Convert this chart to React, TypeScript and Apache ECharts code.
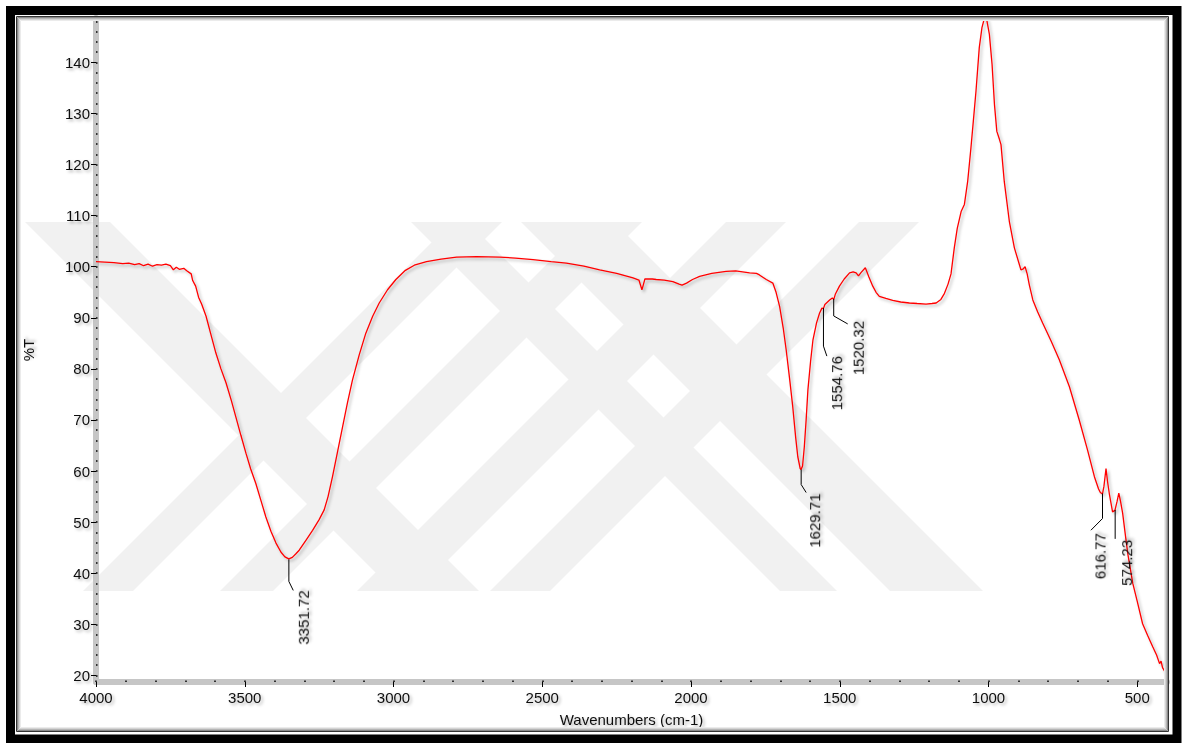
import React, { useEffect, useRef } from "react";
import * as echarts from "echarts";

const wavenumbers = [
  4000, 3970, 3940, 3910, 3890, 3870, 3855, 3840, 3825, 3810, 3795, 3780, 3765, 3750, 3740, 3730, 3720, 3705, 3695, 3680,
  3675, 3665, 3655, 3645, 3630, 3615, 3597, 3580, 3563, 3545, 3530, 3513, 3496, 3480, 3463, 3446, 3429, 3412, 3395, 3378,
  3365, 3352, 3340, 3328, 3317, 3295, 3272, 3250, 3233, 3220, 3205, 3188, 3171, 3155, 3138, 3115, 3093, 3070, 3048, 3020,
  2992, 2960, 2930, 2889, 2840, 2788, 2720, 2643, 2590, 2531, 2470, 2419, 2360, 2307, 2250, 2195, 2175, 2165, 2160, 2155,
  2130, 2117, 2090, 2061, 2040, 2030, 2015, 1995, 1971, 1930, 1882, 1850, 1803, 1780, 1770, 1747, 1725, 1714, 1702, 1690,
  1680, 1668, 1658, 1648, 1641, 1633, 1630, 1625, 1619, 1613, 1607, 1598, 1590, 1578, 1568, 1560, 1555, 1550, 1534, 1525,
  1520, 1515, 1501, 1485, 1467, 1455, 1445, 1437, 1428, 1414, 1402, 1389, 1378, 1367, 1345, 1322, 1295, 1266, 1240, 1210,
  1190, 1176, 1160, 1148, 1136, 1126, 1115, 1105, 1092, 1081, 1070, 1059, 1051, 1042, 1031, 1022, 1014, 1006, 997, 988,
  980, 972, 963, 958, 947, 930, 913, 891, 883, 877, 870, 863, 851, 835, 818, 790, 762, 728, 695, 667,
  644, 630, 624, 617, 612, 605, 600, 594, 583, 575, 568, 562, 556, 549, 540, 532, 515, 500, 482, 465,
  448, 435, 425, 420, 415, 410, 403, 400,
];

const transmittance = [
  101.0, 100.9, 100.8, 100.6, 100.7, 100.4, 100.6, 100.2, 100.5, 100.1, 100.4, 100.3, 100.5, 100.2, 99.4, 99.9, 99.5, 99.7, 99.2, 98.6,
  97.3, 96.2, 94.0, 92.7, 90.3, 87.0, 83.1, 80.0, 77.3, 73.8, 70.6, 67.0, 63.5, 60.4, 57.6, 54.3, 51.0, 48.2, 45.9, 44.1,
  43.2, 42.8, 43.1, 43.8, 44.5, 46.4, 48.4, 50.5, 52.4, 55.0, 58.9, 63.8, 68.7, 73.3, 77.8, 82.8, 87.0, 90.3, 92.9, 95.5,
  97.5, 99.3, 100.3, 101.0, 101.5, 101.9, 102.0, 101.9, 101.7, 101.4, 101.0, 100.7, 100.1, 99.4, 98.7, 97.8, 97.4, 95.5, 96.5, 97.6,
  97.6, 97.5, 97.4, 97.1, 96.6, 96.4, 96.8, 97.5, 98.1, 98.7, 99.1, 99.2, 98.8, 98.7, 98.4, 97.5, 96.8, 95.0, 92.2, 88.0,
  83.7, 77.8, 72.6, 66.5, 62.8, 60.5, 60.3, 61.0, 64.8, 70.0, 75.9, 81.5, 85.7, 89.0, 90.9, 91.9, 91.8, 92.6, 93.5, 93.9,
  93.6, 94.6, 96.2, 97.6, 98.8, 99.0, 98.8, 98.2, 98.9, 99.8, 98.0, 96.2, 95.0, 94.2, 93.8, 93.4, 93.1, 92.9, 92.8, 92.7,
  92.8, 92.9, 93.6, 94.8, 96.6, 98.6, 103.7, 107.5, 110.8, 112.2, 116.7, 123.3, 128.5, 134.4, 142.9, 146.8, 148.6, 148.4, 145.5, 139.6,
  131.8, 126.5, 124.9, 123.9, 116.7, 108.9, 103.7, 99.4, 99.6, 100.0, 98.6, 96.5, 93.5, 91.2, 89.0, 85.5, 81.8, 76.5, 70.0, 64.1,
  58.9, 56.5, 55.8, 55.5, 57.0, 60.5, 58.0, 55.6, 52.0, 52.3, 54.0, 55.7, 54.0, 51.7, 47.5, 43.9, 38.0, 34.5, 30.1, 27.8,
  25.6, 24.0, 22.3, 22.8, 21.5, 21.0, 20.3, 19.5,
];

const xMajorTicks = [500, 1000, 1500, 2000, 2500, 3000, 3500, 4000];
const xMinorTicks = [
  400, 500, 600, 700, 800, 900, 1000, 1100, 1200, 1300, 1400, 1500, 1600, 1700, 1800, 1900, 2000,
  2100, 2200, 2300, 2400, 2500, 2600, 2700, 2800, 2900, 3000, 3100, 3200, 3300, 3400, 3500, 3600,
  3700, 3800, 3900, 4000,
];
const yMajorTicks = [20, 30, 40, 50, 60, 70, 80, 90, 100, 110, 120, 130, 140];
const yMinorTicks = [
  20, 22, 24, 26, 28, 30, 32, 34, 36, 38, 40, 42, 44, 46, 48, 50, 52, 54, 56, 58, 60, 62, 64, 66, 68,
  70, 72, 74, 76, 78, 80, 82, 84, 86, 88, 90, 92, 94, 96, 98, 100, 102, 104, 106, 108, 110, 112, 114,
  116, 118, 120, 122, 124, 126, 128, 130, 132, 134, 136, 138, 140, 142, 144, 146, 148,
];

const peakWavenumbers = [3351.72, 1629.71, 1554.76, 1520.32, 616.77, 574.23];
const peakValues = [42.7, 60.3, 91.9, 93.7, 55.6, 52.4];
const peakLabels = ["3351.72", "1629.71", "1554.76", "1520.32", "616.77", "574.23"];

// leader layout (pixels): vertical length, bend dx, bend dy, text dx, text dy
const leaderLayout = [
  [22, 4.4, 9, 14, 0],
  [15, 5, 8, 13, 1],
  [38, 3.4, 10, 12.7, 0],
  [17, 14, 8, 24, -3],
  [25, -11.6, 11.7, -3, 3],
  [29, 0, 0, 11, 1],
];

const FONT = '"Liberation Sans", Arial, Helvetica, sans-serif';
const shadowText = {
  textShadowColor: "rgba(0,0,0,0.3)",
  textShadowBlur: 3,
  textShadowOffsetX: 2,
  textShadowOffsetY: 2,
};

const WM = "#f1f1f1";
function band(x0: number, w: number, dir: number) {
  // dir 1: "/" band, dir -1: "\" band. x0 is bottom-left x at y=591
  const h = 369;
  return [
    [x0, 591],
    [x0 + w, 591],
    [x0 + w + dir * h, 222],
    [x0 + dir * h, 222],
  ];
}

export default function App() {
  const ref = useRef<HTMLDivElement>(null);
  useEffect(() => {
    if (!ref.current) return;
    const chart = echarts.init(ref.current, undefined, { renderer: "svg" });
    const lineData = wavenumbers.map((w, i) => [w, transmittance[i]]);
    const peakData = peakWavenumbers.map((w, i) => [w, peakValues[i]]);

    const watermark = [
      band(83, 50, 1),
      band(220, 53, 1),
      band(357, 60, 1),
      band(490, 60, 1),
      band(780, 57, -1),
      band(890, 93, -1),
      band(394, 85, -1),
    ].map((pts) => ({
      type: "polygon",
      silent: true,
      z: -10,
      shape: { points: pts },
      style: { fill: WM },
    }));

    const frame = [
      { type: "rect", shape: { x: 10.5, y: 10.5, width: 1166.5, height: 728.5 }, style: { fill: null, stroke: "#000", lineWidth: 9 } },
      { type: "rect", shape: { x: 16.5, y: 16.5, width: 1152, height: 715 }, style: { fill: null, stroke: "#333", lineWidth: 1 } },
      { type: "rect", shape: { x: 17.5, y: 17.5, width: 1150, height: 713 }, style: { fill: null, stroke: "#8a8a8a", lineWidth: 1 } },
      { type: "rect", shape: { x: 18.5, y: 18.5, width: 1148, height: 711 }, style: { fill: null, stroke: "#b5b5b5", lineWidth: 1 } },
      { type: "rect", shape: { x: 19.5, y: 19.5, width: 1146, height: 709 }, style: { fill: null, stroke: "#d4d4d4", lineWidth: 1 } },
      { type: "rect", shape: { x: 20.5, y: 20.5, width: 1144, height: 707 }, style: { fill: null, stroke: "#ebebeb", lineWidth: 1 } },
    ].map((e) => ({ ...e, silent: true, z: 100 }));

    const axisLineStyle = { color: "#c6c6c6", width: 6 };
    const labelStyle = { color: "#111", fontSize: 15, fontFamily: FONT, ...shadowText };
    const plainLabel = (v: number) => String(v);

    chart.setOption({
      animation: false,
      backgroundColor: "#fff",
      grid: { left: 96, right: 15, top: 18, bottom: 61, containLabel: false },
      graphic: [...watermark, ...frame],
      xAxis: [
        {
          type: "value",
          min: 400,
          max: 4000,
          inverse: true,
          position: "bottom",
          name: "Wavenumbers (cm-1)",
          nameLocation: "middle",
          nameGap: 30,
          nameTextStyle: { ...labelStyle },
          axisLine: { show: true, onZero: false, lineStyle: axisLineStyle },
          axisTick: { show: true, customValues: xMajorTicks, length: 5, lineStyle: { color: "#000", width: 1 } },
          axisLabel: { show: true, customValues: xMajorTicks, margin: 8, formatter: plainLabel, ...labelStyle },
          splitLine: { show: false },
        },
        {
          type: "value",
          min: 400,
          max: 4000,
          inverse: true,
          position: "bottom",
          axisLine: { show: false, onZero: false },
          axisTick: { show: true, customValues: xMinorTicks, inside: true, length: 1.5, lineStyle: { color: "#000", width: 1.5 } },
          axisLabel: { show: false },
          splitLine: { show: false },
        },
      ],
      yAxis: [
        {
          type: "value",
          min: 18.7,
          max: 148.7,
          position: "left",
          name: "%T",
          nameLocation: "middle",
          nameGap: 60,
          nameTextStyle: { ...labelStyle },
          axisLine: { show: true, onZero: false, lineStyle: axisLineStyle },
          axisTick: { show: true, customValues: yMajorTicks, length: 5, lineStyle: { color: "#000", width: 1 } },
          axisLabel: { show: true, customValues: yMajorTicks, margin: 6, formatter: plainLabel, ...labelStyle },
          splitLine: { show: false },
        },
        {
          type: "value",
          min: 18.7,
          max: 148.7,
          position: "left",
          axisLine: { show: false, onZero: false },
          axisTick: { show: true, customValues: yMinorTicks, inside: true, length: 1.5, lineStyle: { color: "#000", width: 1.5 } },
          axisLabel: { show: false },
          splitLine: { show: false },
        },
      ],
      series: [
        {
          type: "line",
          xAxisIndex: 0,
          yAxisIndex: 0,
          data: lineData,
          showSymbol: false,
          symbol: "none",
          lineStyle: {
            color: "#ff0000",
            width: 1.3,
            shadowColor: "rgba(0,0,0,0.3)",
            shadowBlur: 3,
            shadowOffsetX: 2,
            shadowOffsetY: 2,
          },
          z: 5,
        },
        {
          type: "custom",
          xAxisIndex: 0,
          yAxisIndex: 0,
          coordinateSystem: "cartesian2d",
          clip: false,
          z: 6,
          data: peakData,
          encode: { x: 0, y: 1 },
          renderItem: (params: any, api: any) => {
            const i = params.dataIndex;
            const p = api.coord([api.value(0), api.value(1)]);
            const [vl, dx, dy, tdx, tdy] = leaderLayout[i];
            const x0 = p[0];
            const y0 = p[1];
            const y1 = y0 + vl;
            const x2 = x0 + dx;
            const y2 = y1 + dy;
            return {
              type: "group",
              children: [
                {
                  type: "polyline",
                  shape: { points: [[x0, y0], [x0, y1], [x2, y2]] },
                  style: { stroke: "#000", lineWidth: 1, fill: null },
                },
                {
                  type: "text",
                  x: x0 + tdx,
                  y: y2 + tdy,
                  rotation: Math.PI / 2,
                  style: {
                    text: peakLabels[i],
                    align: "right",
                    verticalAlign: "middle",
                    font: `15px ${FONT}`,
                    fill: "#111",
                    ...shadowText,
                  },
                },
              ],
            };
          },
        },
      ],
    });
    return () => chart.dispose();
  }, []);

  return (
    <div
      ref={ref}
      style={{ position: "fixed", left: 0, top: 0, width: 1182, height: 743, background: "#fff" }}
    />
  );
}
